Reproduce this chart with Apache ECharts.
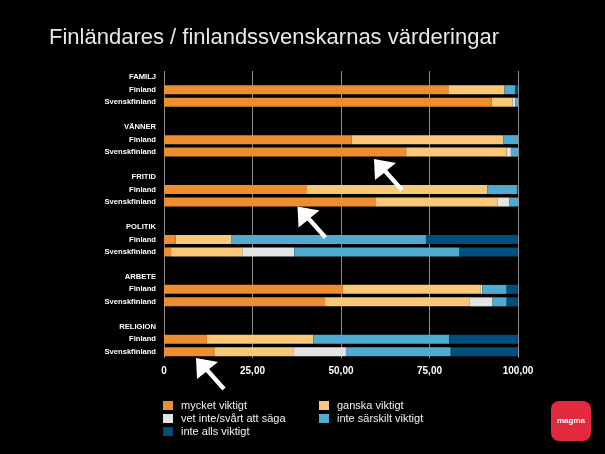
<!DOCTYPE html>
<html>
<head>
<meta charset="utf-8">
<script src="https://cdn.jsdelivr.net/npm/echarts@6/dist/echarts.min.js"></script>
<style>
html,body{margin:0;padding:0;background:#000;}
#c{width:605px;height:454px;}
</style>
</head>
<body>
<div id="c"></div>
<script>
// ---- data ----
var groups = ["FAMILJ", "VÄNNER", "FRITID", "POLITIK", "ARBETE", "RELIGION"];
var regions = ["Finland", "Svenskfinland"];
var seriesNames = ["mycket viktigt", "ganska viktigt", "vet inte/svårt att säga", "inte särskilt viktigt", "inte alls viktigt"];
// values per group: [Finland, Svenskfinland]
var mycket   = [[80.3, 92.6], [53.0, 68.4], [40.4, 59.7], [3.3, 2.0],  [50.5, 45.5], [12.1, 14.2]];
var ganska   = [[15.9, 5.8],  [42.9, 28.4], [50.9, 34.6], [15.8, 20.1],[39.0, 40.9], [30.1, 22.5]];
var vetInte  = [[0.0, 0.9],   [0.0, 1.2],   [0.0, 3.2],   [0.0, 14.7], [0.4, 6.4],  [0.0, 14.7]];
var sarskilt = [[3.0, 0.7],   [4.1, 2.0],   [8.4, 2.5],   [54.9, 46.7],[6.9, 4.0],  [38.4, 29.6]];
var alls     = [[0.8, 0.0],   [0.0, 0.0],   [0.3, 0.0],   [26.0, 16.5],[3.2, 3.2],  [19.4, 19.0]];
var xTicks = [0, 25, 50, 75, 100];
var colors = ["#ED8E31", "#F9C979", "#E4E4E4", "#50ABD0", "#004E7D"];

// ---- build category slots ----
var cats = [];
groups.forEach(function (g, i) {
  cats.push(g);
  regions.forEach(function (r) { cats.push(r); });
  if (i < groups.length - 1) cats.push("");
});
function build(arr) {
  var out = [];
  arr.forEach(function (pair, i) {
    out.push(null);
    out.push(pair[0]);
    out.push(pair[1]);
    if (i < arr.length - 1) out.push(null);
  });
  return out;
}
var allData = [mycket, ganska, vetInte, sarskilt, alls];

var series = seriesNames.map(function (n, k) {
  return {
    name: n,
    type: 'bar',
    stack: 'tot',
    barWidth: 9,
    data: build(allData[k]),
    itemStyle: { color: colors[k] },
    emphasis: { disabled: true },
    animation: false
  };
});

function arrow(tx, ty) {
  var p = [[0,0],[22,4],[13.1,11.0],[29.6,29.5],[26.4,32.5],[9.9,14.0],[1,21]];
  return {
    type: 'polygon',
    shape: { points: p.map(function (q) { return [q[0] + tx, q[1] + ty]; }) },
    style: { fill: '#ffffff' },
    z: 100
  };
}

var chart = echarts.init(document.getElementById('c'), null, { renderer: 'canvas' });
chart.setOption({
  backgroundColor: '#000',
  animation: false,
  textStyle: { fontFamily: 'Liberation Sans, Arial, sans-serif' },
  title: {
    text: 'Finländares / finlandssvenskarnas värderingar',
    left: 44, top: 22,
    textStyle: { color: '#e8e8e8', fontSize: 22, fontWeight: 'normal', fontFamily: 'Liberation Sans, Arial, sans-serif' }
  },
  grid: { left: 164, right: 87, top: 71, bottom: 96, containLabel: false },
  xAxis: {
    type: 'value', min: xTicks[0], max: xTicks[xTicks.length - 1], interval: 25,
    axisLine: { show: false }, axisTick: { show: false },
    splitLine: { show: true, lineStyle: { color: '#8c8c8c', width: 1 } },
    axisLabel: {
      color: '#ffffff', fontSize: 10, fontWeight: 'bold', margin: 8,
      formatter: function (v) { return v === 0 ? '0' : v.toFixed(2).replace('.', ','); }
    }
  },
  yAxis: {
    type: 'category', inverse: true, data: cats,
    axisLine: { show: false }, axisTick: { show: false },
    axisLabel: { color: '#ffffff', fontSize: 7.6, fontWeight: 'bold', margin: 8, interval: 0 }
  },
  legend: [
    {
      data: [seriesNames[0], seriesNames[2], seriesNames[4]],
      orient: 'vertical', left: 158, top: 395, itemWidth: 10, itemHeight: 9, itemGap: 2,
      icon: 'rect', selectedMode: false,
      textStyle: { color: '#f2f2f2', fontSize: 11, padding: [0, 0, 0, 3] }
    },
    {
      data: [seriesNames[1], seriesNames[3]],
      orient: 'vertical', left: 314, top: 395, itemWidth: 10, itemHeight: 9, itemGap: 2,
      icon: 'rect', selectedMode: false,
      textStyle: { color: '#f2f2f2', fontSize: 11, padding: [0, 0, 0, 3] }
    }
  ],
  series: series,
  graphic: [
    arrow(374, 159),
    arrow(297.5, 206.5),
    arrow(196, 358),
    {
      type: 'group', left: 551, top: 401,
      children: [
        { type: 'rect', shape: { x: 0, y: 0, width: 40, height: 40, r: 8 }, style: { fill: '#E2293D' } },
        { type: 'text', style: { x: 20, y: 20, text: 'magma', fill: '#ffffff', font: 'bold 8px Liberation Sans, Arial, sans-serif', align: 'center', verticalAlign: 'middle' } }
      ]
    }
  ]
});
</script>
</body>
</html>
